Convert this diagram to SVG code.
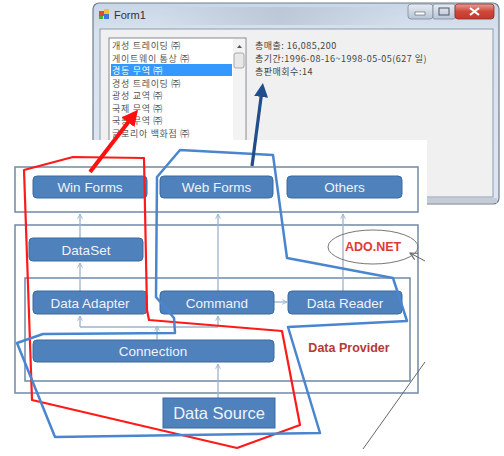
<svg xmlns="http://www.w3.org/2000/svg" width="504" height="456" viewBox="0 0 504 456">
<style>
.box{fill:#4f81bd;stroke:#3b6a9f;stroke-width:1}
.lbl{font-family:"Liberation Sans",Arial,sans-serif;font-size:13.5px;fill:#eef3fa;text-anchor:middle}
.layer{fill:none;stroke:#7089a6;stroke-width:1.5}
.con{fill:none;stroke:#9db3cc;stroke-width:1.3}
.li{font-family:"Noto Sans CJK KR","Noto Sans",sans-serif;font-size:9px;letter-spacing:0.7px;fill:#555}
.info{font-family:"Noto Sans CJK KR","Noto Sans",sans-serif;font-size:9px;letter-spacing:0.5px;fill:#444}
</style>
<defs>
<marker id="ah" viewBox="0 0 10 10" refX="9" refY="5" markerWidth="6" markerHeight="6" orient="auto-start-reverse" markerUnits="userSpaceOnUse"><path d="M1,1 L9,5 L1,9" fill="none" stroke="#9db3cc" stroke-width="1.5"/></marker>
<marker id="ahg" viewBox="0 0 10 10" refX="9" refY="5" markerWidth="9" markerHeight="9" orient="auto" markerUnits="userSpaceOnUse"><path d="M1,1 L9,5 L1,9" fill="none" stroke="#666" stroke-width="1.3"/></marker>
<marker id="ahr" viewBox="0 0 10 10" refX="5" refY="5" markerWidth="16" markerHeight="16" orient="auto" markerUnits="userSpaceOnUse"><path d="M0,0 L10,5 L0,10 Z" fill="#ff1010"/></marker>
<marker id="ahb" viewBox="0 0 10 10" refX="5" refY="5" markerWidth="14" markerHeight="14" orient="auto" markerUnits="userSpaceOnUse"><path d="M0,0 L10,5 L0,10 Z" fill="#1f4e8c"/></marker>
<linearGradient id="frame" x1="0" y1="0" x2="0" y2="1"><stop offset="0" stop-color="#c9d6e6"/><stop offset="0.15" stop-color="#d8e2ee"/><stop offset="1" stop-color="#dde6f0"/></linearGradient>
<linearGradient id="blob" x1="0" y1="0" x2="1" y2="0"><stop offset="0" stop-color="#b0bccb" stop-opacity="0"/><stop offset="0.5" stop-color="#b0bccb" stop-opacity="0.6"/><stop offset="1" stop-color="#b0bccb" stop-opacity="0"/></linearGradient>
<linearGradient id="btn" x1="0" y1="0" x2="0" y2="1"><stop offset="0" stop-color="#e6ecf3"/><stop offset="1" stop-color="#b8c5d5"/></linearGradient>
<linearGradient id="cls" x1="0" y1="0" x2="0" y2="1"><stop offset="0" stop-color="#e8a095"/><stop offset="0.5" stop-color="#d0473a"/><stop offset="1" stop-color="#c23a2c"/></linearGradient>
</defs>
<rect width="504" height="456" fill="#fff"/>
<g id="window">
<rect x="93" y="3" width="406" height="201" rx="6" fill="url(#frame)" stroke="#6f7c8c" stroke-width="1.2"/>
<rect x="160" y="7" width="240" height="18" fill="url(#blob)"/>
<rect x="100" y="29" width="393" height="168" fill="#f0f0f0" stroke="#8d9cb0" stroke-width="1"/>
<rect x="97" y="198" width="400" height="5" fill="#c5ccd6"/>
<g id="icon"><rect x="99" y="11" width="5" height="5" fill="#e04a2a"/><rect x="104" y="9" width="5" height="5" fill="#f2c12e"/><rect x="104" y="14" width="5" height="5" fill="#3a7bd5"/><rect x="99" y="16" width="4" height="3" fill="#4caa3c"/></g>
<text x="114" y="19" font-family="'Segoe UI','Liberation Sans',sans-serif" font-size="11" fill="#333">Form1</text>
<rect x="408" y="4" width="25" height="15" rx="3" fill="url(#btn)" stroke="#7d8a9a" stroke-width="0.8"/>
<rect x="415" y="12" width="10" height="3" fill="#fff" stroke="#556" stroke-width="0.6"/>
<rect x="433" y="4" width="22" height="15" rx="2" fill="url(#btn)" stroke="#7d8a9a" stroke-width="0.8"/>
<rect x="439" y="8" width="10" height="7" fill="none" stroke="#556" stroke-width="1"/>
<rect x="455" y="4" width="39" height="15" rx="3" fill="url(#cls)" stroke="#8a3028" stroke-width="0.8"/>
<path d="M470,8 L479,15 M479,8 L470,15" stroke="#fff" stroke-width="2.2"/>
<rect x="109" y="38" width="137" height="110" fill="#fff" stroke="#828790" stroke-width="1"/>
<rect x="233" y="39" width="12" height="108" fill="#f3f3f3"/>
<path d="M237,48 L239.5,45 L242,48 Z" fill="#555"/>
<rect x="234" y="53" width="10" height="15" rx="2" fill="#e8e8e8" stroke="#999" stroke-width="0.8"/>
<rect x="111" y="64" width="121" height="12" fill="#3399ff"/>
<text class="li" x="112" y="49">개성 트레이딩 ㈜</text>
<text class="li" x="112" y="61.5">게이트웨이 통상 ㈜</text>
<text class="li" x="112" y="74" style="fill:#fff">경동 무역 ㈜</text>
<text class="li" x="112" y="86.5">경성 트레이딩 ㈜</text>
<text class="li" x="112" y="99">광성 교역 ㈜</text>
<text class="li" x="112" y="111.5">국제 무역 ㈜</text>
<text class="li" x="112" y="124">국동 무역 ㈜</text>
<text class="li" x="112" y="136.5">글로리아 백화점 ㈜</text>
<text class="info" x="255" y="49">총매출: 16,085,200</text>
<text class="info" x="255" y="62">총기간:1996-08-16~1998-05-05(627 일)</text>
<text class="info" x="255" y="75">총판매회수:14</text>
</g>
<rect x="0" y="140" width="427" height="316" fill="#fff"/>
<g id="layers">
<rect class="layer" x="15" y="167" width="403" height="45"/>
<rect class="layer" x="15" y="225" width="403" height="168"/>
<rect class="layer" x="25" y="278" width="385" height="103"/>
</g>
<g id="connectors">
<line class="con" x1="80" y1="238" x2="80" y2="214" marker-end="url(#ah)"/>
<line class="con" x1="218" y1="291" x2="218" y2="214" marker-end="url(#ah)"/>
<line class="con" x1="343" y1="291" x2="343" y2="214" marker-end="url(#ah)"/>
<line class="con" x1="80" y1="291" x2="80" y2="263" marker-end="url(#ah)"/>
<polyline class="con" points="80,327 218,327"/>
<line class="con" x1="80" y1="327" x2="80" y2="316" marker-end="url(#ah)"/>
<line class="con" x1="218" y1="327" x2="218" y2="316" marker-end="url(#ah)"/>
<line class="con" x1="157" y1="340" x2="157" y2="326" marker-end="url(#ah)"/>
<line class="con" x1="218" y1="398" x2="218" y2="364" marker-end="url(#ah)"/>
<line class="con" x1="274" y1="302" x2="287" y2="302" marker-end="url(#ah)"/>
<line x1="425" y1="261" x2="410" y2="253" stroke="#666" stroke-width="1" marker-end="url(#ahg)"/>
<line x1="425" y1="362" x2="363" y2="449" stroke="#666" stroke-width="1"/>
</g>
<g id="winforms"><rect class="box" x="33" y="176" width="114" height="22" rx="4"/><text class="lbl" x="90" y="192">Win Forms</text></g>
<g id="webforms"><rect class="box" x="160" y="176" width="113" height="22" rx="4"/><text class="lbl" x="216.5" y="192">Web Forms</text></g>
<g id="others"><rect class="box" x="287" y="176" width="115" height="22" rx="4"/><text class="lbl" x="344.5" y="192">Others</text></g>
<g id="dataset"><rect class="box" x="29" y="238" width="114" height="23" rx="4"/><text class="lbl" x="86" y="254.5">DataSet</text></g>
<g id="dataadapter"><rect class="box" x="33" y="291" width="114" height="23" rx="4"/><text class="lbl" x="90" y="307.5">Data Adapter</text></g>
<g id="command"><rect class="box" x="160" y="291" width="114" height="23" rx="4"/><text class="lbl" x="217" y="307.5">Command</text></g>
<g id="datareader"><rect class="box" x="288" y="291" width="114" height="23" rx="4"/><text class="lbl" x="345" y="307.5">Data Reader</text></g>
<g id="connection"><rect class="box" x="33" y="340" width="241" height="22" rx="4"/><text class="lbl" x="153" y="356">Connection</text></g>
<g id="datasource"><rect class="box" x="163" y="398" width="112" height="30"/><text class="lbl" x="219" y="419" style="font-size:16.5px">Data Source</text></g>
<g id="adonet"><ellipse cx="373" cy="247" rx="45" ry="17" fill="none" stroke="#777" stroke-width="1"/><text x="373" y="251" font-family="'Liberation Sans',Arial,sans-serif" font-size="12.5" font-weight="bold" fill="#e03a34" text-anchor="middle">ADO.NET</text></g>
<g id="dataprovider"><text x="349" y="352" font-family="'Liberation Sans',Arial,sans-serif" font-size="12.5" font-weight="bold" fill="#b53a34" text-anchor="middle">Data Provider</text></g>
<g id="highlights">
<polygon points="24,170 73,157 144,158 147,310 149,320 282,331 300,425 237,448 32,400" fill="none" stroke="#ff1a1a" stroke-width="2.2" stroke-linejoin="round"/>
<polygon points="157,177 180,150 273,155 287,258 393,278 407,321 288,327 320,433 55,437 17,343 43,334 175,333 174,318 156,297" fill="none" stroke="#4a86d0" stroke-width="2.5" stroke-linejoin="round"/>
<line x1="90" y1="172" x2="133" y2="116" stroke="#ff1010" stroke-width="4" marker-end="url(#ahr)"/>
<line x1="252" y1="166" x2="262" y2="90" stroke="#1f4e8c" stroke-width="3.2" marker-end="url(#ahb)"/>
</g>
</svg>
